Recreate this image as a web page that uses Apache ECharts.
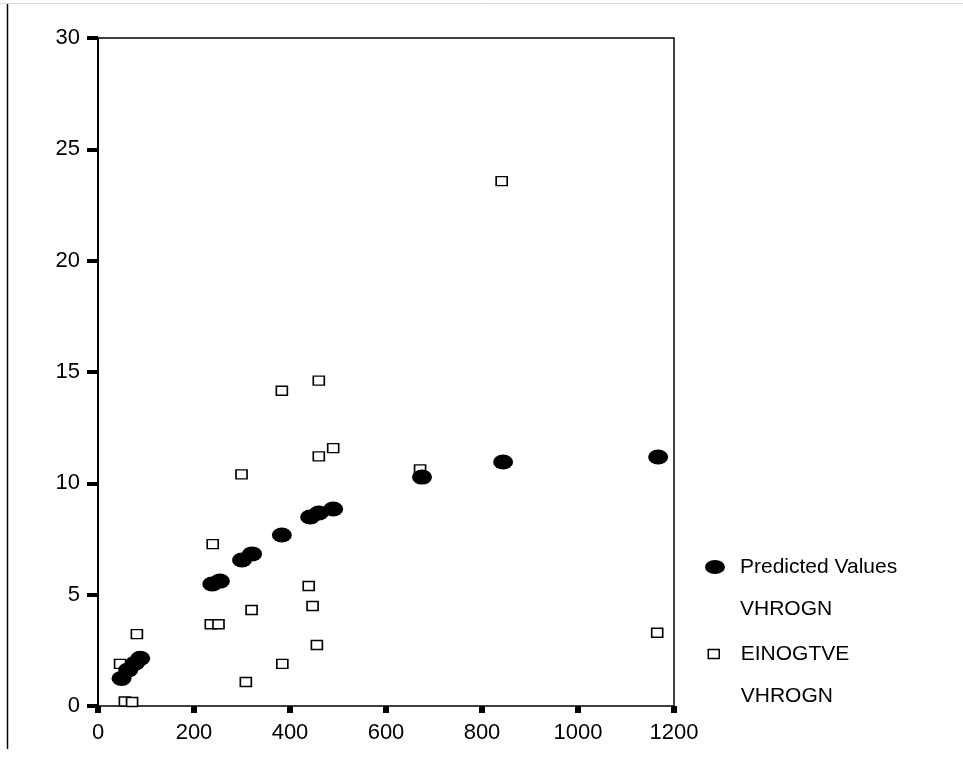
<!DOCTYPE html>
<html><head><meta charset="utf-8">
<script src="https://cdn.jsdelivr.net/npm/echarts@6/dist/echarts.min.js"></script>
<style>html,body{margin:0;padding:0;background:#fff}#c{width:963px;height:762px}</style>
</head><body><div id="c"></div>
<script>
// ---- data ----
const xTicks = [0, 200, 400, 600, 800, 1000, 1200];
const yTicks = [0, 5, 10, 15, 20, 25, 30];
const predictedX = [49, 63, 77, 88, 238, 254, 300, 321, 383, 442, 460, 490, 675, 844, 1167];
const predictedY = [1.24, 1.62, 1.92, 2.14, 5.48, 5.61, 6.56, 6.83, 7.68, 8.49, 8.67, 8.85, 10.28, 10.96, 11.18];
const observedX = [46, 56, 71, 81, 235, 251, 239, 299, 308, 320, 383, 384, 439, 447, 456, 460, 460, 490, 671, 841, 1165];
const observedY = [1.89, 0.20, 0.18, 3.23, 3.67, 3.67, 7.27, 10.40, 1.08, 4.31, 14.16, 1.89, 5.39, 4.49, 2.74, 14.61, 11.21, 11.58, 10.63, 23.57, 3.29];
const seriesNames = ['Predicted Values', 'EINOGTVE'];
const subLabel = 'VHROGN';

// ---- chart ----
const FONT = "'Liberation Sans', Arial, sans-serif";
const pairs = (xs, ys) => xs.map((x, i) => [x, ys[i]]);
const chart = echarts.init(document.getElementById('c'), null, {renderer: 'canvas'});
const legendText = (padLeft) => ({
  fontSize: 21, fontFamily: FONT, color: '#000', lineHeight: 42,
  padding: [0, 0, 0, padLeft]
});
chart.setOption({
  animation: false,
  backgroundColor: '#fff',
  grid: {left: 98, top: 38, width: 576, height: 668, show: true,
         borderColor: '#000', borderWidth: 1.5, backgroundColor: 'transparent'},
  xAxis: {
    type: 'value', min: xTicks[0], max: xTicks[xTicks.length - 1], interval: xTicks[1] - xTicks[0],
    offset: 2,
    axisLine: {show: false},
    axisTick: {show: true, length: 7, lineStyle: {color: '#000', width: 6}},
    axisLabel: {margin: 14, fontSize: 22, fontFamily: FONT, color: '#000', formatter: v => String(v)},
    splitLine: {show: false}
  },
  yAxis: {
    type: 'value', min: yTicks[0], max: yTicks[yTicks.length - 1], interval: yTicks[1] - yTicks[0],
    axisLine: {show: true, lineStyle: {color: '#000', width: 2}},
    axisTick: {show: true, length: 11, lineStyle: {color: '#000', width: 4}},
    axisLabel: {margin: 18, fontSize: 22, fontFamily: FONT, color: '#000', formatter: v => String(v)},
    splitLine: {show: false}
  },
  legend: [
    {data: [seriesNames[0]], orient: 'vertical', left: 705, top: 504, padding: 0,
     itemWidth: 20, itemHeight: 14,
     icon: 'path://M0,7A10,7 0 1,0 20,7A10,7 0 1,0 0,7Z', symbolKeepAspect: false,
     itemStyle: {color: '#000', borderWidth: 0},
     formatter: n => '\n' + n + '\n' + subLabel, textStyle: legendText(10), selectedMode: false},
    {data: [seriesNames[1]], orient: 'vertical', left: 707.5, top: 591, padding: 0,
     itemWidth: 11, itemHeight: 9, icon: 'rect', symbolKeepAspect: false,
     itemStyle: {color: '#fff', borderColor: '#000', borderWidth: 1.5},
     formatter: n => '\n' + n + '\n' + subLabel, textStyle: legendText(16.5), selectedMode: false}
  ],
  graphic: [
    {type: 'line', shape: {x1: 0, y1: 3.5, x2: 963, y2: 3.5}, style: {stroke: '#d8d8d8', lineWidth: 1}, silent: true},
    {type: 'line', shape: {x1: 7.5, y1: 4, x2: 7.5, y2: 749}, style: {stroke: '#000', lineWidth: 1.5}, silent: true}
  ],
  series: [
    {name: seriesNames[1], type: 'scatter', data: pairs(observedX, observedY),
     symbol: 'rect', symbolSize: [11, 9], z: 2,
     itemStyle: {color: '#fff', borderColor: '#000', borderWidth: 1.5, opacity: 1}},
    {name: seriesNames[0], type: 'scatter', data: pairs(predictedX, predictedY),
     symbol: 'circle', symbolSize: [20, 15], z: 3,
     itemStyle: {color: '#000', opacity: 1}}
  ]
});
</script></body></html>
